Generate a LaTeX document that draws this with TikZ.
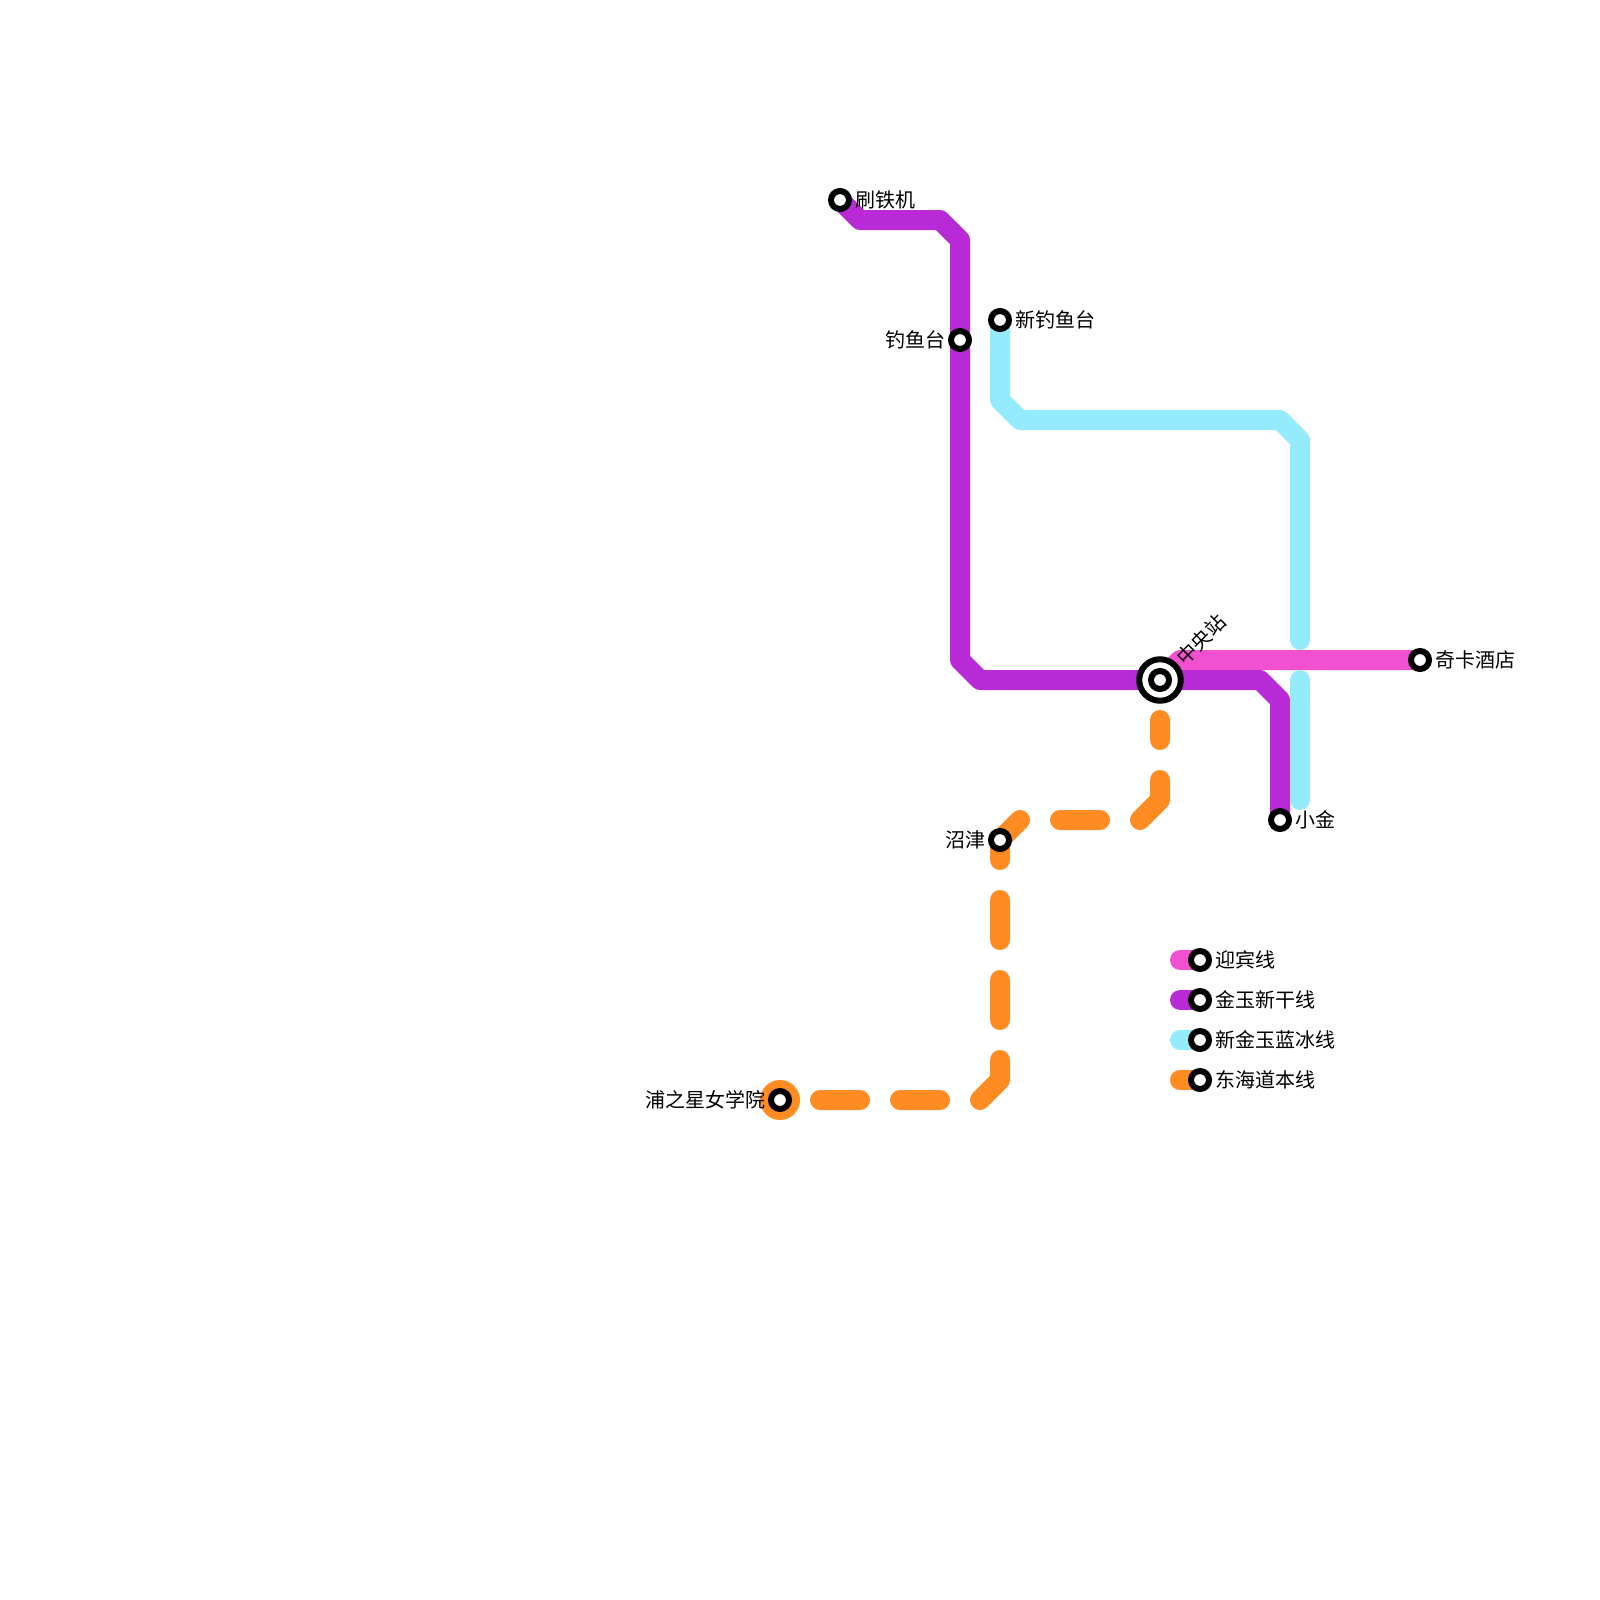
\documentclass[tikz,border=0pt]{standalone}
\usepackage{fontspec}
\newfontfamily\cjkfont{Noto Sans CJK SC}
\usetikzlibrary{positioning,backgrounds}
\definecolor{linepink}{HTML}{F150D0}
\definecolor{linepurple}{HTML}{B72AD5}
\definecolor{linecyan}{HTML}{94EBFD}
\definecolor{lineorange}{HTML}{FE8C22}

\begin{document}
\begin{tikzpicture}[
  x=1pt, y=-1pt,
  font=\cjkfont\fontsize{20}{24}\selectfont,
  node distance=6pt and 6pt,
  station/.style={
    circle,
    draw=black,
    line width=6pt,
    fill=white,
    inner sep=0pt,
    outer sep=0pt,
    minimum size=18pt
  },
  hub/.style={station, minimum size=41.5pt},
  stationname/.style={inner sep=0pt, text=black},
  metro/.style={line width=20pt, line cap=round, line join=round},
  welcome/.style={metro, draw=linepink},
  jade/.style={metro, draw=linepurple},
  icy/.style={metro, draw=linecyan},
  tokai/.style={metro, draw=lineorange}
]
\useasboundingbox (0,0) rectangle (1600,1600);

\node[station] (shuatie) at (840,200) {};
\node[station] (diaoyu) at (960,340) {};
\node[station] (xindiaoyu) at (1000,320) {};
\node[hub] (centralouter) at (1160,680) {};
\node[station] (central) at (1160,680) {};
\node[station] (xiaojin) at (1280,820) {};
\node[station] (qika) at (1420,660) {};
\node[station] (numazu) at (1000,840) {};
\node[station] (uranohoshi) at (780,1100) {};

\node[stationname, right=of shuatie] {刷铁机};
\node[stationname, left=5pt of diaoyu] {钓鱼台};
\node[stationname, right=of xindiaoyu] {新钓鱼台};
\node[stationname, right=of xiaojin] {小金};
\node[stationname, right=of qika] {奇卡酒店};
\node[stationname, left=5pt of numazu] {沼津};
\node[stationname, left=5pt of uranohoshi] {浦之星女学院};
\node[stationname, rotate=45, anchor=west] at (1180,661) {中央站};

% legend
\node[station] (keypink) at (1200,960) {};
\node[station, below=22pt of keypink] (keypurple) {};
\node[station, below=22pt of keypurple] (keycyan) {};
\node[station, below=22pt of keycyan] (keyorange) {};
\node[stationname, right=of keypink] {迎宾线};
\node[stationname, right=of keypurple] {金玉新干线};
\node[stationname, right=of keycyan] {新金玉蓝冰线};
\node[stationname, right=of keyorange] {东海道本线};
\coordinate[left=20pt of keypink.center] (keypinkend);
\coordinate[left=20pt of keypurple.center] (keypurpleend);
\coordinate[left=20pt of keycyan.center] (keycyanend);
\coordinate[left=20pt of keyorange.center] (keyorangeend);

% bends
\coordinate (pa) at (860,220);
\coordinate (pb) at (940,220);
\coordinate (pc) at (960,240);
\coordinate (pd) at (960,660);
\coordinate (pe) at (980,680);
\coordinate (pf) at (1260,680);
\coordinate (pg) at (1280,700);
\coordinate (ka) at (1180,660);
\coordinate (ca) at (1000,400);
\coordinate (cb) at (1020,420);
\coordinate (cc) at (1280,420);
\coordinate (cd) at (1300,440);
\coordinate (ce) at (1300,640);
\coordinate (cf) at (1300,680);
\coordinate (cg) at (1300,800);
\coordinate (oa) at (1160,800);
\coordinate (ob) at (1140,820);
\coordinate (oc) at (1020,820);
\coordinate (od) at (1000,1080);
\coordinate (oe) at (980,1100);

\begin{scope}[on background layer]
\draw[welcome] (central.center) -- (ka) -- (qika.center);
\draw[jade] (shuatie.center) -- (pa) -- (pb) -- (pc) -- (pd) -- (pe) -- (pf) -- (pg) -- (xiaojin.center);
\draw[icy] (xindiaoyu.center) -- (ca) -- (cb) -- (cc) -- (cd) -- (ce);
\draw[icy] (cf) -- (cg);
\draw[tokai, dash pattern=on 0pt off 40pt on 20pt off 40pt on 48.28pt off 40pt on 40pt off 40pt on 48.28pt off 40pt on 40pt off 40pt on 40pt off 40pt on 48.28pt off 40pt on 40pt off 40pt on 40pt off 40pt]
  (central.center) -- (oa) -- (ob) -- (oc) -- (numazu.center) -- (od) -- (oe) -- (uranohoshi.center);
\fill[lineorange] (uranohoshi.center) circle (20pt);
\draw[welcome] (keypinkend) -- (keypink.center);
\draw[jade] (keypurpleend) -- (keypurple.center);
\draw[icy] (keycyanend) -- (keycyan.center);
\draw[tokai] (keyorangeend) -- (keyorange.center);
\end{scope}
\end{tikzpicture}
\end{document}
